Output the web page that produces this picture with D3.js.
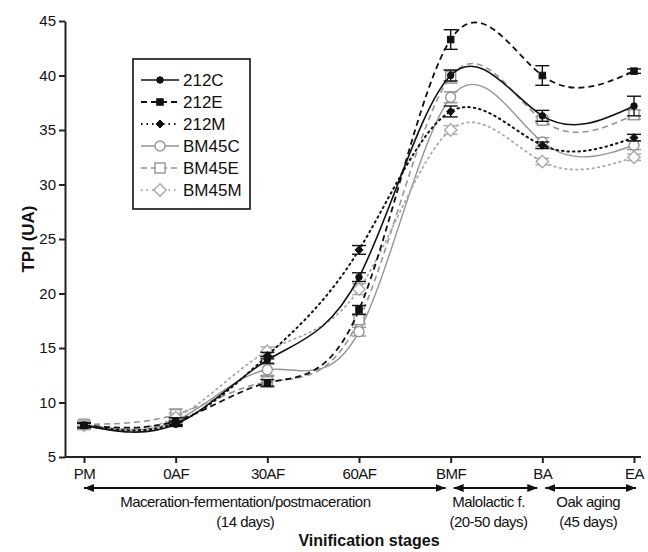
<!DOCTYPE html>
<html>
<head>
<meta charset="utf-8">
<script src="https://cdn.jsdelivr.net/npm/d3@7"></script>
<style>
  body { margin: 0; background: #fff; }
  text { font-family: 'Liberation Sans', Arial, sans-serif; fill: #111; }
</style>
</head>
<body>
<div id="chart"></div>
<script>
// stages along the x axis
const stages = ['PM', '0AF', '30AF', '60AF', 'BMF', 'BA', 'EA']
const yTicks = [5, 10, 15, 20, 25, 30, 35, 40, 45]

// TPI means and error bars
const s212C = [7.9, 8.0, 13.9, 21.5, 40.0, 36.3, 37.2]
const e212C = [0.2, 0.2, 0.3, 0.4, 0.5, 0.5, 0.9]
const s212E = [7.9, 8.3, 11.8, 18.5, 43.3, 40.0, 40.4]
const e212E = [0.2, 0.3, 0.3, 0.4, 0.9, 0.9, 0.2]
const s212M = [7.9, 8.1, 14.3, 24.0, 36.7, 33.6, 34.3]
const e212M = [0.2, 0.2, 0.3, 0.4, 0.5, 0.3, 0.3]
const sBM45C = [8.0, 8.3, 13.0, 16.5, 38.0, 33.9, 33.6]
const eBM45C = [0.3, 0.4, 0.5, 0.4, 0.5, 0.4, 0.4]
const sBM45E = [8.0, 8.9, 11.9, 17.6, 39.9, 35.9, 36.4]
const eBM45E = [0.3, 0.5, 0.5, 0.4, 0.6, 0.3, 0.4]
const sBM45M = [7.9, 8.6, 14.7, 20.4, 35.0, 32.1, 32.5]
const eBM45M = [0.4, 0.4, 0.4, 0.5, 0.4, 0.3, 0.3]

// stage periods drawn under the axis
const periods = [
  { from: 'PM', to: 'BMF', lines: ['Maceration-fermentation/postmaceration', '(14 days)'], shift: -22 },
  { from: 'BMF', to: 'BA', lines: ['Malolactic f.', '(20-50 days)'], shift: -8 },
  { from: 'BA', to: 'EA', lines: ['Oak aging', '(45 days)'], shift: 0 }
]

const grey = '#959595'
const series = [
  { name: '212C', values: s212C, err: s212C.map((v, i) => e212C[i]), color: '#111', dash: null, width: 1.6, shape: 'circle', fill: true },
  { name: '212E', values: s212E, err: e212E, color: '#111', dash: '6,4', width: 1.8, shape: 'square', fill: true },
  { name: '212M', values: s212M, err: e212M, color: '#111', dash: '1.5,4', width: 2, shape: 'diamond', fill: true },
  { name: 'BM45C', values: sBM45C, err: eBM45C, color: grey, dash: null, width: 1.4, shape: 'circle', fill: false },
  { name: 'BM45E', values: sBM45E, err: eBM45E, color: grey, dash: '6,4', width: 1.6, shape: 'square', fill: false },
  { name: 'BM45M', values: sBM45M, err: eBM45M, color: '#aaa', dash: '1.5,4', width: 1.8, shape: 'diamond', fill: false }
]

const W = 648
const H = 552

const svg = d3.select('#chart')
  .append('svg')
  .attr('width', W)
  .attr('height', H)

const x = d3.scalePoint().domain(stages).range([84, 634])
const y = d3.scaleLinear().domain([5, 45]).range([457, 21])
const axisX = 65

// y axis
svg.append('g')
  .attr('transform', 'translate(' + axisX + ',0)')
  .call(d3.axisLeft(y).tickValues(yTicks).tickSize(6).tickPadding(3).tickSizeOuter(0))
  .call(g => g.selectAll('text').style('font-size', '15px'))
  .call(g => g.selectAll('line,path').attr('stroke', '#222').attr('stroke-width', 2))

// x axis
const gx = svg.append('g')
  .attr('transform', 'translate(0,' + y(5) + ')')
  .call(d3.axisBottom(x).tickSize(6).tickPadding(5).tickSizeOuter(0))
gx.select('.domain').remove()
gx.append('line').attr('x1', axisX).attr('x2', 641).attr('stroke', '#222').attr('stroke-width', 2)
gx.selectAll('line').attr('stroke', '#222').attr('stroke-width', 2)
gx.selectAll('text').style('font-size', '15px').style('letter-spacing', '-0.5px')

// axis titles
svg.append('text')
  .attr('transform', 'translate(34,' + y(25) + ') rotate(-90)')
  .attr('text-anchor', 'middle')
  .style('font-size', '17px')
  .style('font-weight', 'bold')
  .text('TPI (UA)')

svg.append('text')
  .attr('x', 369)
  .attr('y', 546)
  .attr('text-anchor', 'middle')
  .style('font-size', '16px')
  .style('font-weight', 'bold')
  .text('Vinification stages')

// arrow heads
const defs = svg.append('defs')
defs.append('marker')
  .attr('id', 'head')
  .attr('viewBox', '0 0 10 8')
  .attr('refX', 10).attr('refY', 4)
  .attr('markerWidth', 10).attr('markerHeight', 8)
  .attr('markerUnits', 'userSpaceOnUse')
  .attr('orient', 'auto-start-reverse')
  .append('path').attr('d', 'M0,0L10,4L0,8Z').attr('fill', '#111')

const pg = svg.append('g')
periods.forEach(function (p, i) {
  const x0 = x(p.from) + (i === 0 ? 0 : 3)
  const x1 = x(p.to) - (i === periods.length - 1 ? -2 : 5)
  pg.append('line')
    .attr('x1', x0).attr('x2', x1)
    .attr('y1', 488).attr('y2', 488)
    .attr('stroke', '#111').attr('stroke-width', 2)
    .attr('marker-start', 'url(#head)')
    .attr('marker-end', 'url(#head)')
  p.lines.forEach(function (t, j) {
    pg.append('text')
      .attr('x', (x(p.from) + x(p.to)) / 2 + p.shift)
      .attr('y', 507 + j * 20)
      .attr('text-anchor', 'middle')
      .style('font-size', '15px')
      .style('letter-spacing', '-0.5px')
      .text(t)
  })
})

// symbols
function drawSymbol (g, shape, size, s) {
  let m
  if (shape === 'circle') {
    m = g.append('circle').attr('r', size / 2)
  } else if (shape === 'square') {
    m = g.append('rect').attr('x', -size / 2).attr('y', -size / 2).attr('width', size).attr('height', size)
  } else {
    const r = size * 0.62
    m = g.append('path').attr('d', 'M0,' + (-r) + 'L' + r + ',0L0,' + r + 'L' + (-r) + ',0Z')
  }
  m.attr('fill', s.fill ? s.color : '#fff')
    .attr('stroke', s.color)
    .attr('stroke-width', s.fill ? 1 : 1.4)
}

const line = d3.line()
  .x(function (d, i) { return x(stages[i]) })
  .y(function (d) { return y(d) })
  .curve(d3.curveNatural)

// draw grey series first so the black ones sit on top
const order = [3, 4, 5, 0, 1, 2]
order.forEach(function (k) {
  const s = series[k]
  const g = svg.append('g')
  g.append('path')
    .datum(s.values)
    .attr('fill', 'none')
    .attr('stroke', s.color)
    .attr('stroke-width', s.width)
    .attr('stroke-dasharray', s.dash)
    .attr('stroke-linecap', s.dash && s.dash.startsWith('1.5') ? 'round' : 'butt')
    .attr('d', line)

  s.values.forEach(function (v, i) {
    const cx = x(stages[i])
    const e = s.err[i]
    const eb = g.append('g').attr('stroke', s.color).attr('stroke-width', 1.4)
    eb.append('line').attr('x1', cx).attr('x2', cx).attr('y1', y(v - e)).attr('y2', y(v + e))
    eb.append('line').attr('x1', cx - 7).attr('x2', cx + 7).attr('y1', y(v - e)).attr('y2', y(v - e))
    eb.append('line').attr('x1', cx - 7).attr('x2', cx + 7).attr('y1', y(v + e)).attr('y2', y(v + e))
    const mg = g.append('g').attr('transform', 'translate(' + cx + ',' + y(v) + ')')
    drawSymbol(mg, s.shape, s.fill ? 6.5 : 10, s)
  })
})

// legend
const lg = svg.append('g')
lg.append('rect')
  .attr('x', 133).attr('y', 59)
  .attr('width', 117).attr('height', 150)
  .attr('fill', '#fff')
  .attr('stroke', '#111')
  .attr('stroke-width', 1.6)
series.forEach(function (s, i) {
  const ly = 80 + i * 22
  lg.append('line')
    .attr('x1', 141).attr('x2', 179)
    .attr('y1', ly).attr('y2', ly)
    .attr('stroke', s.color)
    .attr('stroke-width', s.width)
    .attr('stroke-dasharray', s.dash)
  const mg = lg.append('g').attr('transform', 'translate(160,' + ly + ')')
  drawSymbol(mg, s.shape, s.fill ? 6.5 : 10, s)
  lg.append('text')
    .attr('x', 183).attr('y', ly)
    .attr('dy', '0.36em')
    .style('font-size', '17px')
    .text(s.name)
})
</script>
</body>
</html>
